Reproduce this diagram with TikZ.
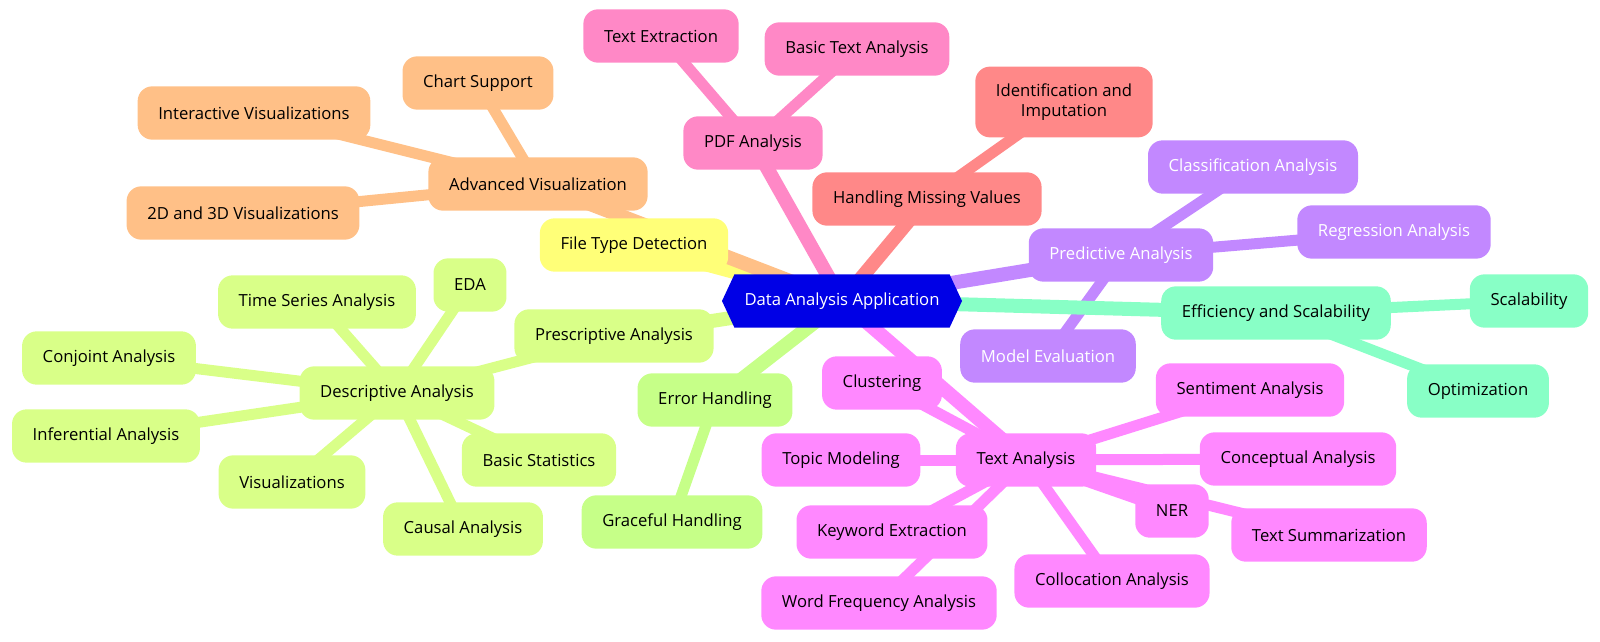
\documentclass[tikz,border=0pt]{standalone}
\usepackage{fontspec}
\setmainfont{Open Sans}
\usetikzlibrary{shapes.symbols}

\definecolor{rootblue}{HTML}{0000E6}
\definecolor{cftd}{HTML}{FFFF78}
\definecolor{cadv}{HTML}{FFC087}
\definecolor{cpdf}{HTML}{FF88C6}
\definecolor{cmiss}{HTML}{FF8888}
\definecolor{cpred}{HTML}{C288FF}
\definecolor{ceff}{HTML}{88FFC6}
\definecolor{ctext}{HTML}{FF88FF}
\definecolor{cerr}{HTML}{C6FF88}
\definecolor{cdesc}{HTML}{D9FF88}

\pgfdeclarelayer{bg}
\pgfsetlayers{bg,main}

\begin{document}
\begin{tikzpicture}[x=0.75pt,y=-0.75pt]
	\tikzstyle{box}=[rounded corners=11pt,minimum height=40pt,inner xsep=15.5pt,inner ysep=4pt,font=\fontsize{12.5}{14.5}\selectfont,text=black]
	\tikzstyle{trunk}=[line width=10.5pt]
	\tikzstyle{twig}=[line width=8.25pt]
	\useasboundingbox (0,0) rectangle (1600,642);
	% root
	\node[signal,signal to=west and east,signal pointer angle=130,fill=rootblue,text=white,minimum width=180pt,minimum height=40pt,inner xsep=4pt,font=\fontsize{12.5}{14.5}\selectfont] (root) at (842,301) {Data Analysis Application};
	% visualisation
	\node[box,fill=cftd] (ftd) at (634,245) {File Type Detection};
	\node[box,fill=cadv] (advviz) at (538,184) {Advanced Visualization};
	\node[box,fill=cadv] (chart) at (478,83) {Chart Support};
	\node[box,fill=cadv] (interviz) at (254,113) {Interactive Visualizations};
	\node[box,fill=cadv] (vizdd) at (243,213) {2D and 3D Visualizations};
	% pdf
	\node[box,fill=cpdf] (pdf) at (753,143) {PDF Analysis};
	\node[box,fill=cpdf] (textext) at (661,36) {Text Extraction};
	\node[box,fill=cpdf] (basictext) at (857,49) {Basic Text Analysis};
	% missing values
	\node[box,fill=cmiss] (missing) at (927,199) {Handling Missing Values};
	\node[box,fill=cmiss,align=center,inner ysep=13pt] (imput) at (1064,102) {Identification and\\Imputation};
	% predictive
	\node[box,fill=cpred,text=white] (pred) at (1121,255) {Predictive Analysis};
	\node[box,fill=cpred,text=white] (classif) at (1253,167) {Classification Analysis};
	\node[box,fill=cpred,text=white] (regr) at (1394,232) {Regression Analysis};
	\node[box,fill=cpred,text=white] (modeval) at (1048,356) {Model Evaluation};
	% efficiency
	\node[box,fill=ceff] (eff) at (1276,313) {Efficiency and Scalability};
	\node[box,fill=ceff] (scal) at (1529,301) {Scalability};
	\node[box,fill=ceff] (optim) at (1478,391) {Optimization};
	% text analysis
	\node[box,fill=ctext] (text) at (1026,460) {Text Analysis};
	\node[box,fill=ctext] (clust) at (882,383) {Clustering};
	\node[box,fill=ctext] (topic) at (841,460) {Topic Modeling};
	\node[box,fill=ctext] (senti) at (1250,390) {Sentiment Analysis};
	\node[box,fill=ctext] (concept) at (1298,459) {Conceptual Analysis};
	\node[box,fill=ctext] (ner) at (1172,511) {NER};
	\node[box,fill=ctext] (summ) at (1329,535) {Text Summarization};
	\node[box,fill=ctext] (keyword) at (892,532) {Keyword Extraction};
	\node[box,fill=ctext] (wordfreq) at (879,603) {Word Frequency Analysis};
	\node[box,fill=ctext] (colloc) at (1112,581) {Collocation Analysis};
	% errors
	\node[box,fill=cerr] (err) at (715,400) {Error Handling};
	\node[box,fill=cerr] (grace) at (672,522) {Graceful Handling};
	% analysis types
	\node[box,fill=cdesc] (presc) at (614,336) {Prescriptive Analysis};
	\node[box,fill=cdesc] (descr) at (397,393) {Descriptive Analysis};
	\node[box,fill=cdesc] (eda) at (470,285) {EDA};
	\node[box,fill=cdesc] (tseries) at (317,302) {Time Series Analysis};
	\node[box,fill=cdesc] (conjoint) at (109,358) {Conjoint Analysis};
	\node[box,fill=cdesc] (infer) at (106,436) {Inferential Analysis};
	\node[box,fill=cdesc] (viz) at (292,482) {Visualizations};
	\node[box,fill=cdesc] (basicstat) at (539,460) {Basic Statistics};
	\node[box,fill=cdesc] (causal) at (463,529) {Causal Analysis};
	% connectors
	\begin{pgfonlayer}{bg}
		\draw[trunk,cftd] (root.center) -- (ftd.center);
		\draw[trunk,cadv] (root.center) -- (advviz.center);
		\foreach \leaf in {chart,interviz,vizdd}
			\draw[twig,cadv] (advviz.center) -- (\leaf.center);
		\draw[trunk,cpdf] (root.center) -- (pdf.center);
		\foreach \leaf in {textext,basictext}
			\draw[twig,cpdf] (pdf.center) -- (\leaf.center);
		\draw[trunk,cmiss] (root.center) -- (missing.center);
		\draw[twig,cmiss] (missing.center) -- (imput.center);
		\draw[trunk,cpred] (root.center) -- (pred.center);
		\foreach \leaf in {classif,regr,modeval}
			\draw[twig,cpred] (pred.center) -- (\leaf.center);
		\draw[trunk,ceff] (root.center) -- (eff.center);
		\foreach \leaf in {scal,optim}
			\draw[twig,ceff] (eff.center) -- (\leaf.center);
		\draw[trunk,ctext] (root.center) -- (text.center);
		\foreach \leaf in {clust,topic,senti,concept,ner,summ,keyword,wordfreq,colloc}
			\draw[twig,ctext] (text.center) -- (\leaf.center);
		\draw[trunk,cerr] (root.center) -- (err.center);
		\draw[twig,cerr] (err.center) -- (grace.center);
		\draw[trunk,cdesc] (root.center) -- (presc.center);
		\draw[twig,cdesc] (presc.center) -- (descr.center);
		\foreach \leaf in {eda,tseries,conjoint,infer,viz,basicstat,causal}
			\draw[twig,cdesc] (descr.center) -- (\leaf.center);
	\end{pgfonlayer}
\end{tikzpicture}
\end{document}
